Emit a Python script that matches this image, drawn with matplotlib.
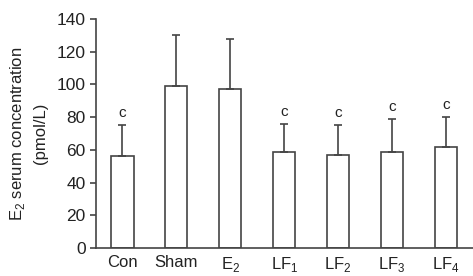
import matplotlib
matplotlib.use("Agg")
import matplotlib.pyplot as plt

# Data
groups = ["Con", "Sham", "E$_2$", "LF$_1$", "LF$_2$", "LF$_3$", "LF$_4$"]
means = [56, 99, 97, 59, 57, 59, 62]
sd = [19, 31, 31, 17, 18, 20, 18]
marks = ["c", "", "", "c", "c", "c", "c"]

plt.rcParams['font.family'] = ['Liberation Sans', 'DejaVu Sans']
plt.rcParams['mathtext.fontset'] = 'custom'
plt.rcParams['mathtext.rm'] = 'Liberation Sans'

edge = '#444444'
fig = plt.figure(figsize=(4.73, 2.76), dpi=100)
ax = fig.add_axes([0.203, 0.101, 0.797, 0.83])

x = list(range(len(groups)))
ax.bar(x, means, width=0.41, color='white', edgecolor=edge, linewidth=1.2)
ax.errorbar(x, means, yerr=[[0] * len(sd), sd], fmt='none', ecolor=edge,
            elinewidth=1.2, capsize=3, capthick=1.2)
for xi, m, s, t in zip(x, means, sd, marks):
    if t:
        ax.text(xi, m + s + 3, t, ha='center', va='bottom', fontsize=11, color='#222222')

ax.set_xlim(-0.49, 6.5)
ax.set_ylim(0, 140)
ax.set_yticks(range(0, 141, 20))
ax.set_xticks(x)
ax.set_xticklabels(groups)
ax.tick_params(axis='x', length=0, labelsize=12, pad=5, colors='#222222')
ax.tick_params(axis='y', length=4, width=1.2, labelsize=12.5, colors=edge, labelcolor='#222222')
for s in ['top', 'right']:
    ax.spines[s].set_visible(False)
for s in ['left', 'bottom']:
    ax.spines[s].set_color(edge)
    ax.spines[s].set_linewidth(1.2)
ax.set_ylabel("E$_2$ serum concentration\n(pmol/L)", fontsize=12, color='#222222',
              labelpad=6, linespacing=1.5)

plt.savefig("out.png", dpi=100)
